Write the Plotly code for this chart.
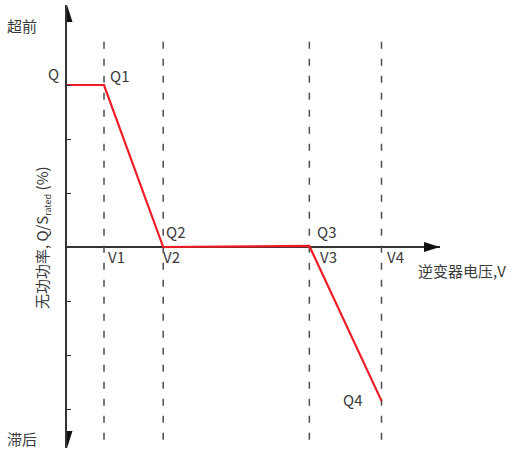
import plotly.graph_objects as go

# ---- data (arbitrary units: voltage axis, Q/S_rated units) ----
volt_labels = ["V1", "V2", "V3", "V4"]
volt_values = [1.0, 2.6, 6.55, 8.5]
curve_x = [0.0, 1.0, 2.6, 6.55, 8.5]
curve_q = [3.0, 3.0, 0.0, 0.02, -2.85]
q_labels = ["Q", "Q1", "Q2", "Q3", "Q4"]
y_ticks = [-3, -2, -1, 1, 2, 3]

X_MAX = 10.081
Y_MIN, Y_MAX = -3.722, 4.4815
DASH_TOP, DASH_BOT = 3.98, -3.57

FONT = "Noto Sans CJK SC"
TXT = "#3a3a3a"
AXC = "#333333"
RED = "#ee1c25"

fig = go.Figure()

# dashed vertical guide lines
for v in volt_values:
    fig.add_trace(go.Scatter(x=[v, v], y=[DASH_BOT, DASH_TOP], mode="lines",
                             line=dict(color="#4d4d4d", width=1.5, dash="7px,10px"),
                             hoverinfo="skip", showlegend=False))

# red curve
fig.add_trace(go.Scatter(x=curve_x, y=curve_q, mode="lines",
                         line=dict(color=RED, width=2.2), showlegend=False,
                         cliponaxis=False))

def px(x):
    return x / X_MAX

def py(y):
    return (y - Y_MIN) / (Y_MAX - Y_MIN)

ann = []
def lab(text, x, y, xanchor="left", size=15, **kw):
    ann.append(dict(text=text, x=px(x), y=py(y), xref="paper", yref="paper", showarrow=False,
                    xanchor=xanchor, yanchor="middle",
                    font=dict(family=FONT, size=size, color=TXT), **kw))

# Q labels
q_pos = [(-0.514, 3.22), (1.162, 3.185), (2.676, 0.296), (6.757, 0.296), (7.459, -2.833)]
for t, (x, y) in zip(q_labels, q_pos):
    lab(t, x - 0.05, y)
# V labels
v_left = [1.108, 2.595, 6.838, 8.649]
for t, x in zip(volt_labels, v_left):
    lab(t, x - 0.05, -0.185)

lab("逆变器电压,V", 9.486 - 0.05, -0.444)
lab("超前", -1.62 - 0.05, 4.11)
lab("滞后", -1.62 - 0.05, -3.537)
ann.append(dict(text="无功功率, Q/S<sub><span style='font-size:9px'>rated</span></sub> (%)",
                x=px(-0.676), y=py(0.185),
                xref="paper", yref="paper", showarrow=False, textangle=-90,
                xanchor="center", yanchor="middle",
                font=dict(family=FONT, size=15, color=TXT)))

shapes = [
    # up arrow
    dict(type="path", xsizemode="pixel", ysizemode="pixel", xanchor=0, yanchor=Y_MAX,
         xref="x", yref="y", path="M-5.5,-17 L5.5,-17 L0,0 Z",
         fillcolor="#111111", line=dict(width=0)),
    # down arrow
    dict(type="path", xsizemode="pixel", ysizemode="pixel", xanchor=0, yanchor=Y_MIN,
         xref="x", yref="y", path="M-5.5,17 L5.5,17 L0,0 Z",
         fillcolor="#111111", line=dict(width=0)),
    # right arrow
    dict(type="path", xsizemode="pixel", ysizemode="pixel", xanchor=X_MAX, yanchor=0,
         xref="x", yref="y", path="M-16,-5 L-16,5 L0,0 Z",
         fillcolor="#111111", line=dict(width=0)),
]

fig.update_layout(
    width=514, height=452,
    margin=dict(l=67, r=74, t=5, b=4),
    paper_bgcolor="white", plot_bgcolor="white",
    annotations=ann, shapes=shapes,
    xaxis=dict(range=[0, X_MAX], showgrid=False, zeroline=False, showline=False,
               showticklabels=False, ticks=""),
    yaxis=dict(range=[Y_MIN, Y_MAX], showgrid=False, zeroline=True,
               zerolinecolor=AXC, zerolinewidth=1.5,
               showline=True, linecolor=AXC, linewidth=1.5,
               ticks="inside", ticklen=4, tickcolor=AXC, tickwidth=1,
               tickvals=y_ticks, showticklabels=False),
)

fig.write_html("out.html", config={"displayModeBar": False},
               post_script="document.body.style.margin='0px';")
